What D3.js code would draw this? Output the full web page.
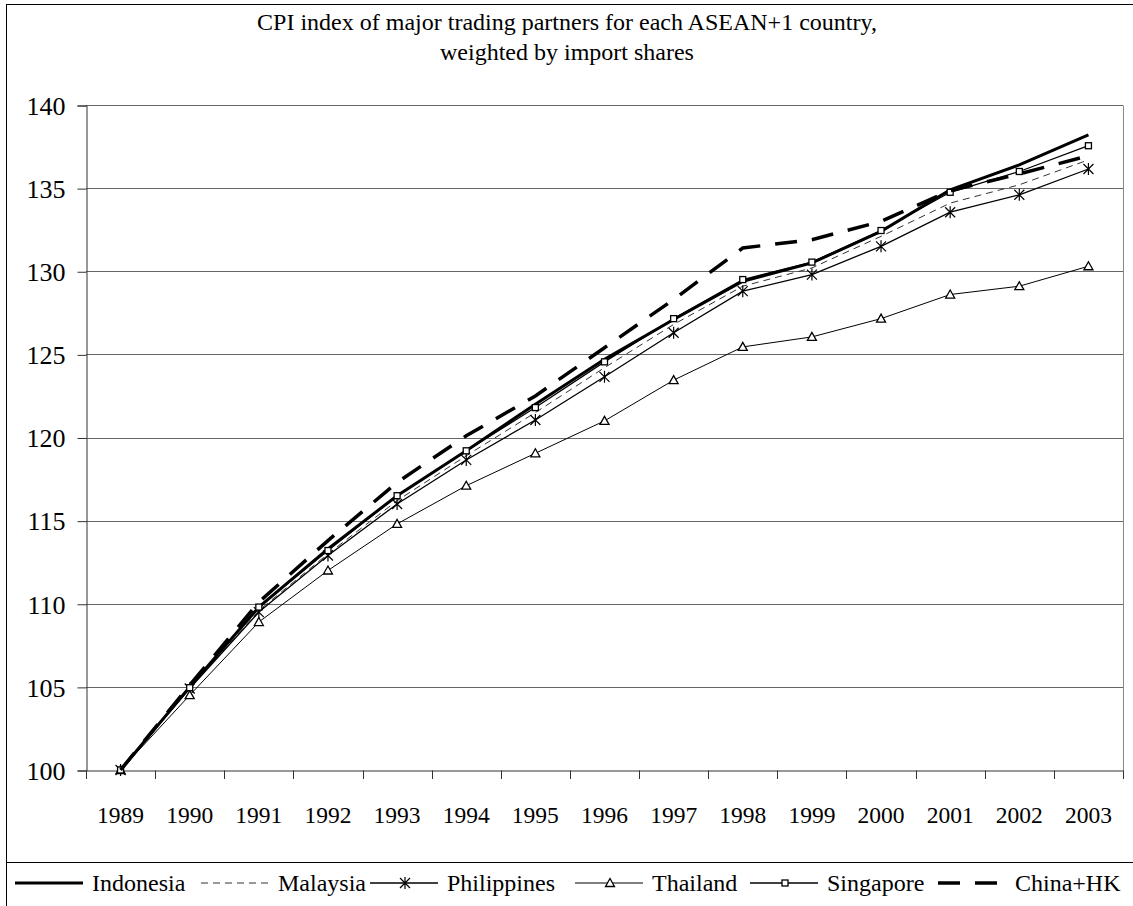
<!DOCTYPE html>
<html>
<head>
<meta charset="utf-8">
<script src="https://cdn.jsdelivr.net/npm/d3@7"></script>
<style>
  body { margin: 0; background: #fff; }
  svg text { font-family: "Liberation Serif", "Times New Roman", serif !important; fill: #000; }
</style>
</head>
<body>
<script>
const w = 1133;
const h = 906;
const serif = "'Liberation Serif', 'Times New Roman', serif";

// data
const years = ["1989", "1990", "1991", "1992", "1993", "1994", "1995", "1996",
               "1997", "1998", "1999", "2000", "2001", "2002", "2003"];
const indonesia   = [100, 105.0, 109.8, 113.3, 116.5, 119.2, 122.0, 124.7, 127.1, 129.4, 130.5, 132.4, 134.9, 136.4, 138.2];
const malaysia    = [100, 104.9, 109.6, 113.0, 116.2, 118.9, 121.5, 124.2, 126.8, 129.1, 130.2, 132.1, 134.1, 135.2, 136.7];
const philippines = [100, 104.9, 109.5, 112.9, 116.0, 118.65, 121.05, 123.65, 126.3, 128.8, 129.8, 131.5, 133.55, 134.6, 136.15];
const thailand    = [100, 104.5, 108.9, 112.0, 114.8, 117.1, 119.05, 121.0, 123.45, 125.45, 126.05, 127.15, 128.6, 129.1, 130.3];
const singapore   = [100, 104.95, 109.8, 113.2, 116.5, 119.2, 121.8, 124.55, 127.15, 129.5, 130.55, 132.45, 134.75, 136.0, 137.55];
const chinaHK     = [100, 105.1, 110.1, 113.8, 117.3, 120.1, 122.5, 125.4, 128.3, 131.4, 131.9, 133.0, 134.85, 135.85, 136.95];
const yTicks = [100, 105, 110, 115, 120, 125, 130, 135, 140];
const titleLines = ["CPI index of major trading partners for each ASEAN+1 country,",
                    "weighted by import shares"];

// how each series is drawn (lx = where its legend sample starts)
const series = [
    {name: "Indonesia",   values: indonesia,   width: 3,   dash: null,    color: "#000", marker: null,       lx: 15},
    {name: "Malaysia",    values: malaysia,    width: 1,   dash: "7,5",   color: "#333", marker: null,       lx: 201},
    {name: "Philippines", values: philippines, width: 1.3, dash: null,    color: "#000", marker: "star",     lx: 370},
    {name: "Thailand",    values: thailand,    width: 1,   dash: null,    color: "#000", marker: "triangle", lx: 575},
    {name: "Singapore",   values: singapore,   width: 1.3, dash: null,    color: "#000", marker: "square",   lx: 750},
    {name: "China+HK",    values: chinaHK,     width: 3.5, dash: "22,15", color: "#000", marker: null,       lx: 938}
];

let svg = d3.select("body")
    .append("svg")
    .attr("width", w)
    .attr("height", h)
    .attr("font-family", serif)
    .style("font-family", serif);

// outer frame + legend box
svg.append("rect")
    .attr("x", 6.5).attr("y", 4.5)
    .attr("width", 1140).attr("height", 858)
    .style("fill", "none").style("stroke", "#000").style("stroke-width", 1);
svg.append("rect")
    .attr("x", 6.5).attr("y", 862.5)
    .attr("width", 1140).attr("height", 80)
    .style("fill", "none").style("stroke", "#000").style("stroke-width", 1);

let x = d3.scaleBand()
    .domain(years)
    .range([86, 1123]);
let y = d3.scaleLinear()
    .domain([100, 140])
    .range([770, 105]);

// title
svg.selectAll("text.title")
    .data(titleLines)
    .enter()
    .append("text")
    .attr("class", "title")
    .attr("x", 567)
    .attr("y", (d, i) => 30 + i * 30)
    .attr("text-anchor", "middle")
    .style("font-family", serif)
    .style("font-size", "24px")
    .text((d) => d);

// gridlines
svg.append("g")
    .selectAll("line")
    .data(yTicks.slice(1))
    .enter()
    .append("line")
    .attr("x1", 86).attr("x2", 1123)
    .attr("y1", (d) => Math.round(y(d)) + 0.5)
    .attr("y2", (d) => Math.round(y(d)) + 0.5)
    .style("stroke", "#666")
    .style("stroke-width", 1);

// right border of plot area
svg.append("line")
    .attr("x1", 1123.5).attr("x2", 1123.5)
    .attr("y1", Math.round(y(140)) + 0.5).attr("y2", Math.round(y(100)) + 0.5)
    .style("stroke", "#888");

// axes
let yAxis = svg.append("g")
    .attr("transform", "translate(86.5, 0.5)")
    .call(d3.axisLeft(y).tickValues(yTicks).tickSize(9).tickPadding(12).tickFormat(d3.format("d")));
let xAxis = svg.append("g")
    .attr("transform", "translate(0, " + (Math.round(y(100)) + 0.5) + ")")
    .call(d3.axisBottom(x).tickSize(0).tickPadding(0).tickFormat(""));

[yAxis, xAxis].forEach((g) => {
    g.attr("font-family", serif);
    g.select(".domain").style("stroke", "#333");
    g.selectAll(".tick line").style("stroke", "#333");
});
yAxis.selectAll("text")
    .style("font-size", "26px")
    .style("font-family", serif)
    .attr("dy", "0.34em");

// x tick marks sit between the categories
svg.append("g")
    .selectAll("line")
    .data(years.concat(["end"]))
    .enter()
    .append("line")
    .attr("x1", (d, i) => Math.round(86 + i * x.bandwidth()) + 0.5)
    .attr("x2", (d, i) => Math.round(86 + i * x.bandwidth()) + 0.5)
    .attr("y1", Math.round(y(100)) + 0.5)
    .attr("y2", Math.round(y(100)) + 9)
    .style("stroke", "#333");

svg.append("g")
    .selectAll("text")
    .data(years)
    .enter()
    .append("text")
    .attr("x", (d) => x(d) + x.bandwidth() / 2)
    .attr("y", 823)
    .attr("text-anchor", "middle")
    .style("font-family", serif)
    .style("font-size", "23.5px")
    .text((d) => d);

// markers
function drawMarker(g, type, cx, cy) {
    if (type === "star") {
        g.append("path")
            .attr("d", "M" + cx + "," + (cy - 6) + "V" + (cy + 6) +
                       "M" + (cx - 5) + "," + (cy - 5) + "L" + (cx + 5) + "," + (cy + 5) +
                       "M" + (cx - 5) + "," + (cy + 5) + "L" + (cx + 5) + "," + (cy - 5))
            .style("stroke", "#000").style("stroke-width", 1.2).style("fill", "none");
    } else if (type === "triangle") {
        g.append("path")
            .attr("d", "M" + cx + "," + (cy - 4.5) + "L" + (cx + 4.5) + "," + (cy + 3.5) +
                       "L" + (cx - 4.5) + "," + (cy + 3.5) + "Z")
            .style("stroke", "#000").style("stroke-width", 1.3).style("fill", "#fff");
    } else if (type === "square") {
        g.append("rect")
            .attr("x", cx - 3).attr("y", cy - 3)
            .attr("width", 6).attr("height", 6)
            .style("stroke", "#000").style("stroke-width", 1.3).style("fill", "#fff");
    }
}

let line = d3.line()
    .x((d, i) => x(years[i]) + x.bandwidth() / 2)
    .y((d) => y(d));

series.forEach((s) => {
    let g = svg.append("g");
    g.append("path")
        .datum(s.values)
        .attr("d", line)
        .style("fill", "none")
        .style("stroke", s.color)
        .style("stroke-width", s.width)
        .style("stroke-dasharray", s.dash);
    if (s.marker) {
        s.values.forEach((v, i) => {
            drawMarker(g, s.marker, x(years[i]) + x.bandwidth() / 2, y(v));
        });
    }
});

// legend
const ly = 883;
series.forEach((s) => {
    let g = svg.append("g");
    g.append("line")
        .attr("x1", s.lx).attr("x2", s.lx + 68)
        .attr("y1", ly).attr("y2", ly)
        .style("stroke", s.color)
        .style("stroke-width", s.width)
        .style("stroke-dasharray", s.dash);
    if (s.marker) drawMarker(g, s.marker, s.lx + 35, ly);
    g.append("text")
        .attr("x", s.lx + 77)
        .attr("y", ly + 8)
        .style("font-family", serif)
        .style("font-size", "24px")
        .text(s.name);
});
</script>
</body>
</html>
